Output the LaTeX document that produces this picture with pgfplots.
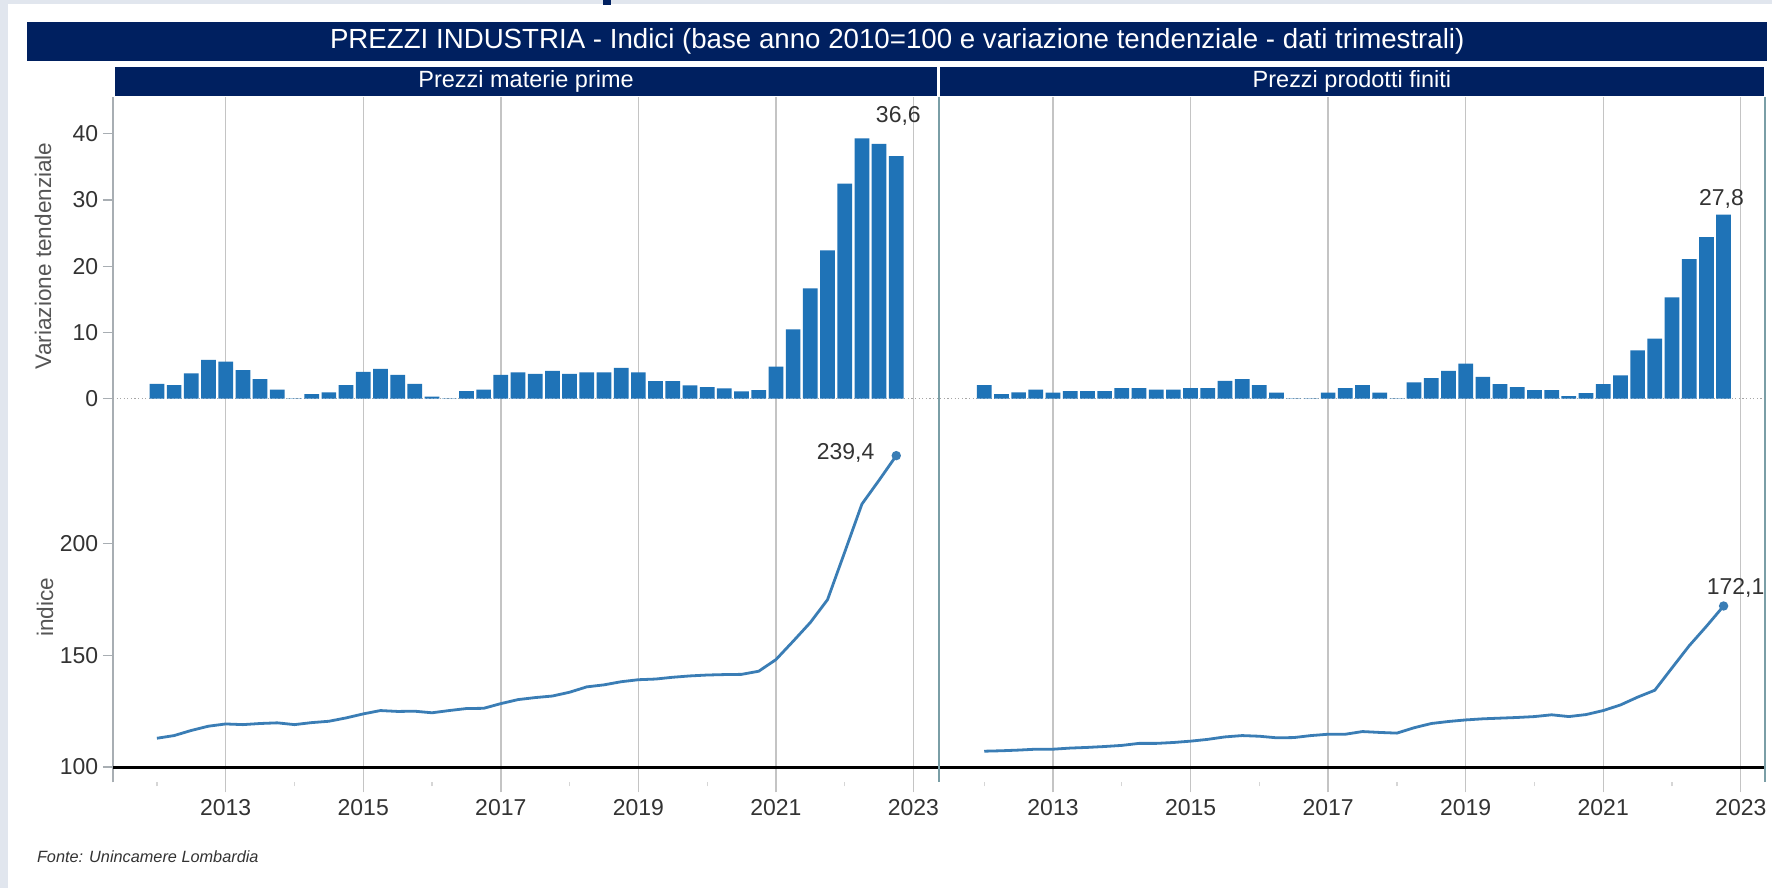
\documentclass[border=0pt]{standalone}
\usepackage{fontspec}
\setmainfont{Liberation Sans}
\usepackage{pgfplots}
\usepackage{pgfplotstable}
\pgfplotsset{compat=1.18}
\definecolor{navy}{HTML}{002060}
\definecolor{barblue}{HTML}{1F73B7}
\definecolor{lineblue}{HTML}{3A7DB5}
\definecolor{gridgray}{HTML}{C4C4C4}
\definecolor{axgray}{HTML}{A8AEB3}
\definecolor{divider}{HTML}{7A9EA6}
\definecolor{bggray}{HTML}{E1E6EE}
\definecolor{txt}{HTML}{333333}
\definecolor{labgray}{HTML}{555555}
\newcommand{\fs}[1]{\fontsize{#1}{#1}\selectfont}

% x = years since 2011 (quarterly, mark at quarter start)
\pgfplotstableread{
x lb rb li ri
1.00 2.25 2.05 112.9 107.1
1.25 2.05 0.70 114.1 107.3
1.50 3.80 0.95 116.4 107.6
1.75 5.85 1.35 118.3 108.0
2.00 5.60 0.90 119.3 108.0
2.25 4.30 1.15 119.0 108.5
2.50 2.95 1.15 119.5 108.8
2.75 1.35 1.15 119.8 109.2
3.00 0.05 1.60 119.0 109.7
3.25 0.70 1.60 119.9 110.6
3.50 0.95 1.35 120.5 110.6
3.75 2.05 1.35 122.0 111.0
4.00 4.05 1.60 123.8 111.6
4.25 4.50 1.60 125.3 112.4
4.50 3.60 2.70 124.9 113.5
4.75 2.25 2.95 125.0 114.1
5.00 0.30 2.05 124.3 113.8
5.25 0.05 0.90 125.3 113.1
5.50 1.15 0.05 126.2 113.2
5.75 1.35 0.05 126.3 114.1
6.00 3.60 0.90 128.4 114.7
6.25 3.95 1.60 130.2 114.7
6.50 3.75 2.05 131.1 115.9
6.75 4.20 0.90 131.8 115.5
7.00 3.75 0.05 133.5 115.2
7.25 3.95 2.45 135.9 117.6
7.50 3.95 3.10 136.8 119.5
7.75 4.65 4.20 138.2 120.4
8.00 3.95 5.30 139.1 121.1
8.25 2.65 3.30 139.4 121.6
8.50 2.65 2.20 140.2 121.9
8.75 2.00 1.75 140.8 122.2
9.00 1.75 1.30 141.2 122.6
9.25 1.55 1.30 141.4 123.4
9.50 1.10 0.40 141.5 122.6
9.75 1.30 0.85 142.9 123.5
10.00 4.85 2.20 148.1 125.3
10.25 10.45 3.50 156.3 127.8
10.50 16.65 7.30 164.7 131.3
10.75 22.40 9.05 174.9 134.4
11.00 32.45 15.30 196.2 144.4
11.25 39.30 21.05 217.7 154.3
11.50 38.45 24.40 228.4 163.0
11.75 36.60 27.80 239.4 172.1
}\data

\pgfplotsset{
 panel/.style={
  scale only axis, width=413pt, anchor=south west,
  xmin=0.36, xmax=12.36, clip=false,
  axis x line*=bottom, axis y line*=left,
  x axis line style={draw=none},
  y axis line style={draw=axgray, line width=0.8pt},
  xtick={2,4,6,8,10,12},
  xmajorgrids, major grid style={draw=gridgray, line width=0.7pt},
  tick align=outside,
  major tick length=5pt,
  ytick style={draw=axgray, line width=0.6pt},
  yticklabel style={font=\fs{11.5}, text=txt, xshift=1.2pt},
 },
 barpanel/.style={panel, height=151pt, ymin=0, ymax=45.55,
   xticklabels={}, xtick style={draw=none},
   ytick={0,10,20,30,40}, yticklabels={0,10,20,30,40}},
 idxpanel/.style={panel, height=192pt, ymin=93.16, ymax=264.9,
   ytick={100,150,200}, yticklabels={100,150,200},
   xticklabels={2013,2015,2017,2019,2021,2023},
   xticklabel style={font=\fs{11.5}, text=txt},
   major x tick style={draw=gridgray, line width=0.7pt},
   minor xtick={1,3,5,7,9,11},
   minor x tick style={draw=gridgray!70, line width=0.6pt},
   minor tick length=2pt},
 noy/.style={y axis line style={draw=none}, ymajorticks=false},
}

\begin{document}
\begin{tikzpicture}
\begin{scope}[x=0.5pt,y=0.5pt]
\useasboundingbox (0,0) rectangle (1773,889);
\fill[bggray] (0,0) rectangle (1773,889);
\fill[white] (8,0) rectangle (1773,884.7);
\fill[navy] (603,889) rectangle (611,884);
% title bars
\fill[navy] (27.5,867) rectangle (1768,828);
\node[text=white, font=\fs{13.85}] at (898,847.5) {PREZZI INDUSTRIA - Indici (base anno 2010=100 e variazione tendenziale - dati trimestrali)};
\fill[navy] (115,822) rectangle (938,793);
\node[text=white, font=\fs{11.75}] at (526.5,807.5) {Prezzi materie prime};
\fill[navy] (941,822) rectangle (1765,793);
\node[text=white, font=\fs{11.75}] at (1353,807.5) {Prezzi prodotti finiti};
\end{scope}

% left bars
\begin{axis}[barpanel, at={(56.5pt,245pt)}]
\addplot[gray!70, line width=0.5pt, dash pattern=on 0.6pt off 1.2pt, forget plot] coordinates {(0.36,0) (12.36,0)};
\addplot[ybar, bar width=0.214, bar shift=0pt, fill=barblue, draw=none] table[x=x,y=lb] {\data};
\node[font=\fs{11.5}, text=txt] at (axis cs:11.78,42.7) {36,6};
\end{axis}
% left index
\begin{axis}[idxpanel, at={(56.5pt,53pt)}]
\addplot[black, line width=1.5pt, forget plot] coordinates {(0.36,100) (12.36,100)};
\addplot[lineblue, line width=1.4pt, mark=*, mark indices={44}, mark size=1.6pt] table[x=x,y=li] {\data};
\node[font=\fs{11.5}, text=txt, anchor=east, inner sep=0pt, xshift=-10.8pt, yshift=1.5pt] at (axis cs:11.75,239.4) {239,4};
\end{axis}
% right bars
\begin{axis}[barpanel, noy, at={(470.5pt,245pt)}]
\addplot[gray!70, line width=0.5pt, dash pattern=on 0.6pt off 1.2pt, forget plot] coordinates {(0.36,0) (12.36,0)};
\addplot[ybar, bar width=0.214, bar shift=0pt, fill=barblue, draw=none] table[x=x,y=rb] {\data};
\node[font=\fs{11.5}, text=txt] at (axis cs:11.72,30.1) {27,8};
\end{axis}
% right index
\begin{axis}[idxpanel, noy, at={(470.5pt,53pt)}]
\addplot[black, line width=1.5pt, forget plot] coordinates {(0.36,100) (12.36,100)};
\addplot[lineblue, line width=1.4pt, mark=*, mark indices={44}, mark size=1.6pt] table[x=x,y=ri] {\data};
\node[font=\fs{11.5}, text=txt, xshift=6pt, yshift=9pt] at (axis cs:11.75,172.1) {172,1};
\end{axis}

\begin{scope}[x=0.5pt,y=0.5pt]
% dividers
\draw[divider, line width=1.3pt] (939.8,792) -- (939.8,106);
\draw[divider, line width=1.3pt] (1766.5,792) -- (1766.5,106);
% axis titles
\node[rotate=90, font=\fs{11.3}, text=labgray] at (43,633) {Variazione tendenziale};
\node[rotate=90, font=\fs{11.3}, text=labgray] at (45,281) {indice};
\node[anchor=west, font=\fs{8.15}\itshape, text=txt] at (30,32) {Fonte: Unincamere Lombardia};
\end{scope}
\end{tikzpicture}
\end{document}
